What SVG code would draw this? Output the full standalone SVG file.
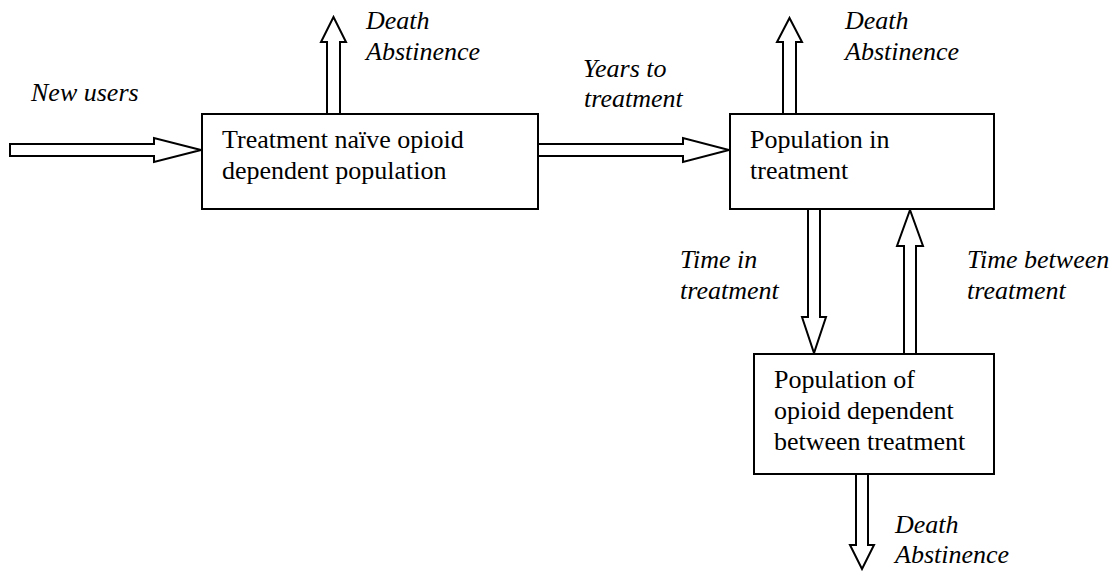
<svg xmlns="http://www.w3.org/2000/svg" width="1117" height="571" viewBox="0 0 1117 571">
<style>
.box{fill:#fff;stroke:#000;stroke-width:2}
.arr{fill:#fff;stroke:#000;stroke-width:2;stroke-linejoin:miter}
.t{font-family:"Liberation Serif","Times New Roman",serif;font-size:26px;fill:#000}
.lbl{font-family:"Liberation Serif","Times New Roman",serif;font-size:26px;font-style:italic;fill:#000}
</style>
<rect width="1117" height="571" fill="#fff"/>
<g id="connectors">
<polygon class="arr" points="10,144 154,144 154,138 201,150 154,162 154,156 10,156"/>
<polygon class="arr" points="327,114 327,42 321,42 333.5,17 346,42 340,42 340,114"/>
<polygon class="arr" points="538,144 683,144 683,138 729,150 683,162 683,156 538,156"/>
<polygon class="arr" points="783,114 783,42 777,42 789.5,18 802,42 796,42 796,114"/>
<polygon class="arr" points="808,209 808,317 802,317 814,353 826,317 820,317 820,209"/>
<polygon class="arr" points="904,354 904,246 897,246 910,210 923,246 916,246 916,354"/>
<polygon class="arr" points="856,474 856,545 850,545 862,569 874,545 868,545 868,474"/>
<text class="lbl" x="31" y="101">New users</text>
<text class="lbl" x="366" y="29">Death</text>
<text class="lbl" x="366" y="60">Abstinence</text>
<text class="lbl" x="583" y="77">Years to</text>
<text class="lbl" x="584" y="107">treatment</text>
<text class="lbl" x="845" y="29">Death</text>
<text class="lbl" x="845" y="60">Abstinence</text>
<text class="lbl" x="680" y="268">Time in</text>
<text class="lbl" x="680" y="299">treatment</text>
<text class="lbl" x="967" y="268">Time between</text>
<text class="lbl" x="967" y="299">treatment</text>
<text class="lbl" x="895" y="533">Death</text>
<text class="lbl" x="895" y="563">Abstinence</text>
</g>
<g id="node-naive">
<rect class="box" x="202" y="114" width="336" height="95"/>
<text class="t" x="222" y="148">Treatment naïve opioid</text>
<text class="t" x="222" y="179">dependent population</text>
</g>
<g id="node-in-treatment">
<rect class="box" x="730" y="114" width="264" height="95"/>
<text class="t" x="750" y="148">Population in</text>
<text class="t" x="750" y="179">treatment</text>
</g>
<g id="node-between">
<rect class="box" x="754" y="354" width="240" height="120"/>
<text class="t" x="774" y="388">Population of</text>
<text class="t" x="774" y="419">opioid dependent</text>
<text class="t" x="774" y="450">between treatment</text>
</g>
</svg>
